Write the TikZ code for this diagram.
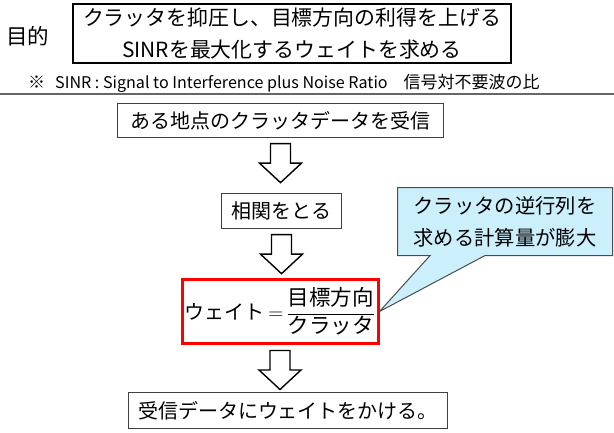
\documentclass[tikz,border=0pt]{standalone}
\usepackage{fontspec}
\setmainfont{Noto Sans CJK JP}
\usetikzlibrary{calc}
\usetikzlibrary{shapes.callouts}

\tikzset{
  plainbox/.style={draw=black!75,line width=1.3pt,fill=white,inner sep=0pt,font=\fontsize{20}{24}\selectfont},
  blockarrow/.style={draw=black,line width=1.4pt,fill=white,line join=miter},
}

% hollow down arrow from one box to the next
\newcommand{\hollowarrow}[2]{%
  \coordinate (#1-top) at ($(#1.south)+(0,5.5)$);
  \coordinate (#1-tip) at ($(#1-top)!39pt!(#1-top |- #2.north)$);
  \coordinate (#1-mid) at ($(#1-top)!19.5pt!(#1-tip)$);
  \draw[blockarrow] ($(#1-top)+(-10,0)$) -- ($(#1-mid)+(-10,0)$) -- ($(#1-mid)+(-21,0)$) -- (#1-tip)
    -- ($(#1-mid)+(21,0)$) -- ($(#1-mid)+(10,0)$) -- ($(#1-top)+(10,0)$) -- cycle;
}

\begin{document}
\begin{tikzpicture}[x=1pt,y=-1pt]
\useasboundingbox (0,0) rectangle (614,432);

\node[font=\fontsize{21.5}{24}\selectfont] (purpose) at (27.5,36) {目的};
\node[draw=black,line width=1.8pt,minimum width=438pt,minimum height=59pt,align=center,inner sep=0pt,font=\fontsize{20.9}{32}\selectfont] (goal) at (292,33.5) {クラッタを抑圧し、目標方向の利得を上げる\\SINRを最大化するウェイトを求める};
\node[anchor=west,inner sep=0pt,font=\fontsize{17}{20}\selectfont] (note) at (28,83.5) {\makebox[27pt][l]{※}{\fontsize{16.1}{20}\selectfont SINR : Signal to Interference plus Noise Ratio}\hspace{16pt}信号対不要波の比};
\draw[black!60,line width=1.5pt] (0,94) -- (614,94);

\node[plainbox,minimum width=326pt,minimum height=34pt] (recv) at (280.5,120.5) {ある地点のクラッタデータを受信};
\node[plainbox,minimum width=120pt,minimum height=35pt] (corr) at (281.5,211) {相関をとる};
\node[plainbox,draw=red,line width=3pt,minimum width=196pt,minimum height=64pt] (weight) at (280,311.5) {$\displaystyle\mbox{ウェイト}\,{=}\,\frac{\mbox{\fontsize{21.5}{24}\selectfont 目標方向}}{\mbox{\fontsize{21.5}{24}\selectfont クラッタ}}$};
\node[plainbox,rectangle callout,fill=cyan!20,draw=black!70,line width=1pt,minimum width=215pt,minimum height=68pt,align=center,font=\fontsize{20.3}{32}\selectfont,
  callout absolute pointer={(weight.east)},callout pointer width=55pt] (memo) at (505,221.5) {クラッタの逆行列を\\求める計算量が膨大};
\node[plainbox,minimum width=319pt,minimum height=36pt] (apply) at (288,410.5) {受信データにウェイトをかける。};

\hollowarrow{recv}{corr}
\hollowarrow{corr}{weight}
\hollowarrow{weight}{apply}

\end{tikzpicture}
\end{document}
